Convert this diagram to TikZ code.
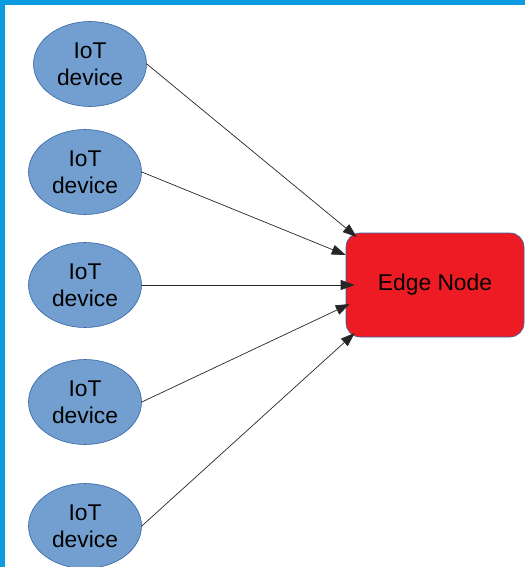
\documentclass[tikz,border=0pt]{standalone}
\usepackage{fontspec}
\setmainfont{Liberation Sans}
\usetikzlibrary{shapes.geometric,arrows.meta}

\definecolor{frameblue}{RGB}{12,155,223}
\definecolor{devfill}{RGB}{114,159,207}
\definecolor{devline}{RGB}{52,101,164}
\definecolor{edgered}{RGB}{237,28,36}

\tikzset{
    device/.style={ellipse, fill=devfill, draw=devline, line width=0.6pt,
        minimum width=113pt, minimum height=85pt, inner sep=0pt,
        align=center, font=\fontsize{22.8}{27}\selectfont},
    edgebox/.style={rectangle, rounded corners=14pt, fill=edgered, draw=devline,
        line width=0.6pt, minimum width=178pt, minimum height=104pt,
        font=\fontsize{22.8}{27}\selectfont},
    link/.style={draw=black!85, line width=0.7pt, -{Triangle[length=14pt,width=10pt]}}
}

\begin{document}
\begin{tikzpicture}[x=1pt, y=-1pt]
    % page size and the blue frame at top and left
    \useasboundingbox (0,0) rectangle (525,567);
    \fill[frameblue] (0,0) rectangle (525,5);
    \fill[frameblue] (0,0) rectangle (5,567);

    % IoT devices
    \node[device] (d1) at (90,64) {IoT\\device};
    \node[device] (d2) at (85,172) {IoT\\device};
    \node[device] (d3) at (85,285) {IoT\\device};
    \node[device] (d4) at (85,402) {IoT\\device};
    \node[device] (d5) at (85,526) {IoT\\device};

    % edge node
    \node[edgebox] (edge) at (435,285) {Edge Node};

    % connectors
    \draw[link] (d1.east) -- ([shift={(11,-48)}]edge.west);
    \draw[link] (d2.east) -- ([shift={(0,-30)}]edge.west);
    \draw[link] (d3.east) -- ([shift={(9,0)}]edge.west);
    \draw[link] (d4.east) -- ([shift={(4,19)}]edge.west);
    \draw[link] (d5.east) -- ([shift={(9,48)}]edge.west);
\end{tikzpicture}
\end{document}
